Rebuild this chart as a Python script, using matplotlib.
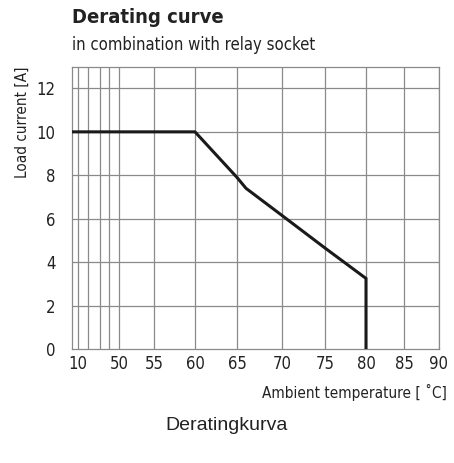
import numpy as np
import matplotlib
matplotlib.use("Agg")
import matplotlib.pyplot as plt
from matplotlib import font_manager

# data
temp = [5, 60, 65, 66, 70, 75, 80, 80]
current = [10, 10, 7.9, 7.4, 6.15, 4.65, 3.25, 0]

grid_temps = [10, 20, 30, 40, 50, 55, 60, 65, 70, 75, 80, 85, 90]
x_tick_labels = ["10", "", "", "", "50", "55", "60", "65", "70", "75", "80", "85", "90"]
y_ticks = [0, 2, 4, 6, 8, 10, 12]

# the drawing's x axis is not linear: temperature -> position on the sheet
scale_t = [5, 10, 20, 30, 40, 50, 55, 60, 65, 70, 75, 80, 85, 90]
scale_p = [72, 78, 88, 100, 109, 119, 154, 195, 237, 282, 325, 366, 404, 439]


def fwd(x):
    return np.interp(x, scale_t, scale_p)


def inv(p):
    return np.interp(p, scale_p, scale_t)


# condensed face if one is installed
names = {f.name for f in font_manager.fontManager.ttflist}
narrow = [n for n in ["Liberation Sans Narrow", "DejaVu Sans"] if n in names]
plt.rcParams["font.family"] = narrow
plt.rcParams["font.stretch"] = "condensed"

fig = plt.figure(figsize=(4.54, 4.63), dpi=100)
ax = fig.add_axes([72 / 454, 1 - 349 / 463, (439 - 72) / 454, (349 - 66.7) / 463])

ax.set_xscale("function", functions=(fwd, inv))
ax.set_xlim(5, 90)
ax.set_ylim(0, 13)

grid_col = "#8a8a8a"
for t in grid_temps:
    ax.axvline(t, color=grid_col, lw=0.9, zorder=1)
for v in y_ticks[1:]:
    ax.axhline(v, color=grid_col, lw=0.9, zorder=1)

ax.plot(temp, current, color="#1a1a1a", lw=2.2, solid_joinstyle="miter", zorder=3)

ax.set_xticks(grid_temps)
ax.set_xticklabels(x_tick_labels, fontsize=12, color="#222222")
ax.set_yticks(y_ticks)
ax.set_yticklabels([str(v) for v in y_ticks], fontsize=12, color="#222222")
ax.tick_params(axis="x", length=0, pad=4)
ax.tick_params(axis="y", length=0, pad=12)

for s in ax.spines.values():
    s.set_color(grid_col)
    s.set_linewidth(0.9)

fig.text(72 / 454, 1 - 8 / 463, "Derating curve", fontsize=14.5, fontweight="bold",
         color="#222222", va="top", ha="left")
fig.text(72 / 454, 1 - 36 / 463, "in combination with relay socket", fontsize=12,
         color="#222222", va="top", ha="left")
fig.text(447 / 454, 1 - 392 / 463, "Ambient temperature [ \u02daC]", fontsize=11,
         color="#222222", va="center", ha="right")
fig.text(22 / 454, 1 - 122 / 463, "Load current [A]", fontsize=11, rotation=90,
         color="#222222", va="center", ha="center")
fig.text(0.5, 1 - 425 / 463, "Deratingkurva", fontsize=14, color="#222222",
         family=["Liberation Sans", "DejaVu Sans"], stretch="normal",
         va="center", ha="center")

fig.savefig("out.png", dpi=100)
